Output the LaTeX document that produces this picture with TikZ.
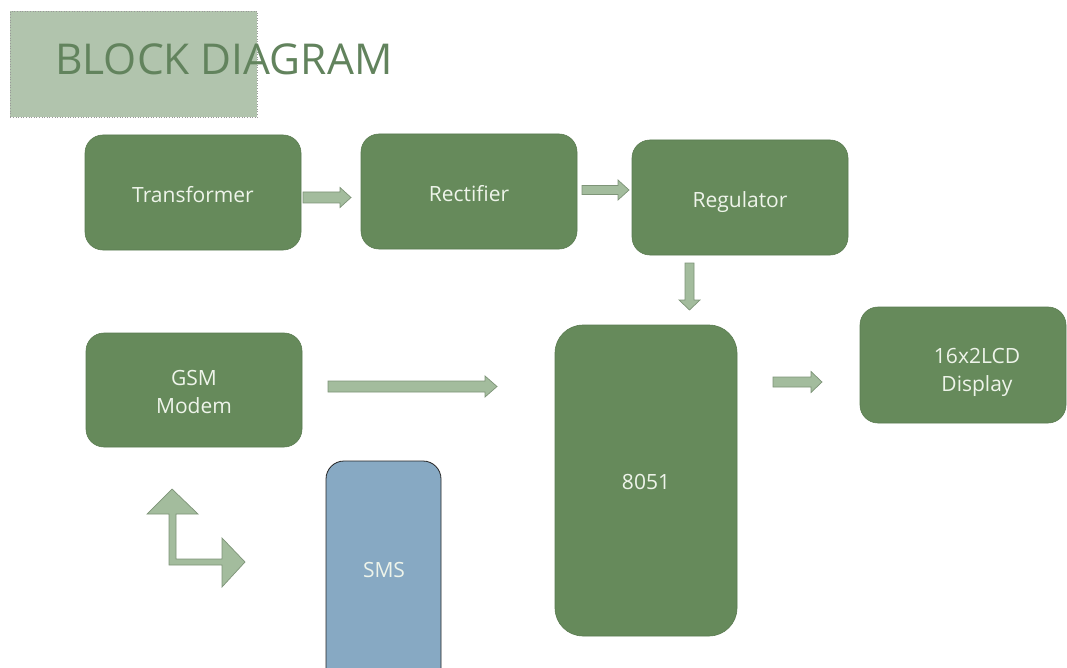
\documentclass[tikz,border=0pt]{standalone}
\usepackage{fontspec}
\setmainfont{Open Sans}
\newfontfamily\titlefont{Open Sans}
\definecolor{boxgreen}{HTML}{668A5B}
\definecolor{boxedge}{HTML}{5A7B50}
\definecolor{arrfill}{HTML}{A3BC9D}
\definecolor{arredge}{HTML}{7E9478}
\definecolor{titlebg}{HTML}{B1C4AD}
\definecolor{titletext}{HTML}{62835D}
\definecolor{smsblue}{HTML}{87A9C3}
\definecolor{boxtext}{HTML}{EEF4EA}
\newcommand\harr[6]{% x0, x-base, x-tip, y-centre, shaft half, head half
  \draw[blockarr] (#1,#4-#5) -- (#2,#4-#5) -- (#2,#4-#6) -- (#3,#4) -- (#2,#4+#6) -- (#2,#4+#5) -- (#1,#4+#5) -- cycle;}
\tikzset{
  gbox/.style={draw=boxedge, line width=0.6pt, fill=boxgreen, rounded corners=18pt, text=boxtext,
    font=\fontsize{21}{28}\selectfont, align=center, inner sep=0pt, text height=21pt, text depth=0pt},
  btext/.style={text=boxtext, font=\fontsize{21}{28}\selectfont, align=center, inner sep=0pt},
  blockarr/.style={draw=arredge, line width=0.7pt, fill=arrfill, line join=miter},
}
\begin{document}
\begin{tikzpicture}[x=1pt,y=-1pt]
\useasboundingbox (0,0) rectangle (1067,668);
\fill[white] (0,0) rectangle (1067,668);
% title
\node[draw=gray!80, dotted, line width=0.6pt, fill=titlebg, minimum width=247pt, minimum height=106pt, inner sep=0pt, anchor=north west] (titlebox) at (10,11) {};
\node[anchor=base west, text=titletext, font=\titlefont\fontsize{42.5}{50}\selectfont, inner sep=0pt] (title) at (55,75) {BLOCK DIAGRAM};
% blocks
\node[gbox, minimum width=216pt, minimum height=115pt] (trans) at (193,192.5) {Transformer};
\node[gbox, minimum width=216pt, minimum height=115pt] (rect) at (469,191.5) {Rectifier};
\node[gbox, minimum width=216pt, minimum height=115pt] (reg) at (740,197.5) {Regulator};
\node[gbox, minimum width=216pt, minimum height=114pt] (gsm) at (194,390) {};
\node[btext] (gsmtext) at (194,391.5) {GSM\\Modem};
\node[gbox, rounded corners=28pt, minimum width=182pt, minimum height=311pt] (mcu) at (646,480.5) {};
\node[btext] (mcutext) at (646,482) {8051};
\node[gbox, minimum width=206pt, minimum height=116pt] (lcd) at (963,365) {};
\node[btext] (lcdtext) at (977,372) {16x2LCD\\Display};
\node[draw=black!85, line width=0.8pt, fill=smsblue, rounded corners=18pt, minimum width=115pt, minimum height=230pt, inner sep=0pt] (sms) at (383.5,576) {};
\node[btext] (smstext) at (384,570) {SMS};
% arrows
\harr{303}{340}{351}{197.5}{5.5}{10}
\harr{582}{618}{629}{190}{4.5}{10}
\draw[blockarr] (685,263) -- (694,263) -- (694,300) -- (700,300) -- (689.5,310) -- (679,300) -- (685,300) -- cycle;
\harr{328}{485}{497}{386.5}{5.5}{10.5}
\harr{773}{811}{822}{382}{5}{10.5}
\draw[blockarr] (172,489) -- (198,514) -- (176,514) -- (176,559) -- (222,559) -- (222,538) -- (245,562) -- (222,587) -- (222,565) -- (169,565) -- (169,514) -- (147,514) -- cycle;
\end{tikzpicture}
\end{document}
